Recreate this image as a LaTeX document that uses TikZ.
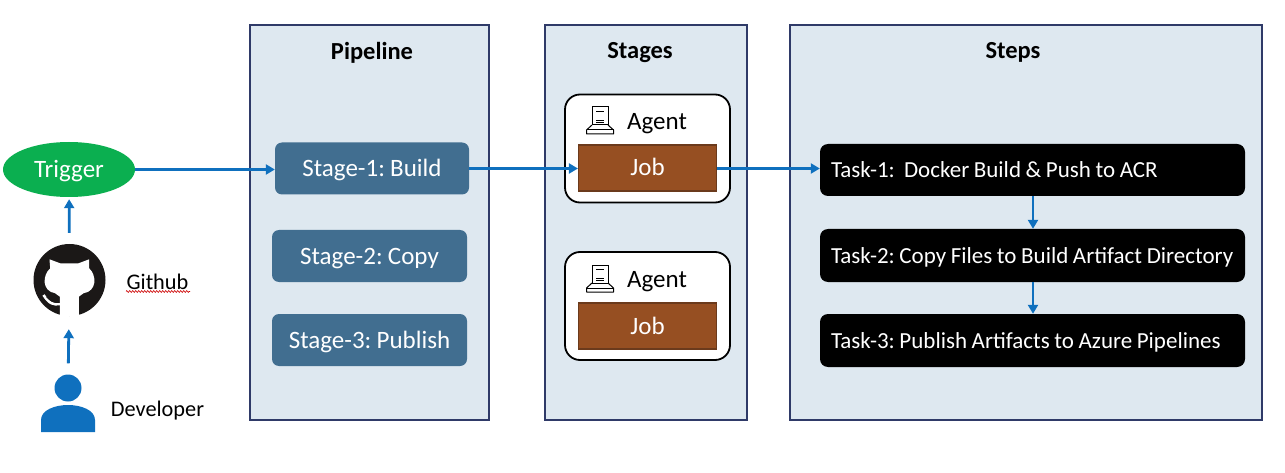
\documentclass[tikz,border=0pt]{standalone}
\usepackage{fontspec}
\setmainfont{Carlito}[WordSpace=0.6]
\usetikzlibrary{shapes.geometric,decorations.pathmorphing,arrows.meta}
\definecolor{panelfill}{HTML}{DEE8F0}
\definecolor{paneldraw}{HTML}{2F3A68}
\definecolor{stagefill}{HTML}{416E90}
\definecolor{jobfill}{HTML}{964F22}
\definecolor{jobdraw}{HTML}{6B3A1C}
\definecolor{trigfill}{HTML}{0BAF50}
\definecolor{flowblue}{HTML}{0F70BE}
\definecolor{octoblack}{HTML}{1B1817}
\newcommand{\taskfont}{\fontsize{23}{27}\selectfont\frenchspacing\spaceskip 4.6pt plus 0pt\relax}
\tikzset{
  base/.style={text height=16pt, text depth=0pt},
  panel/.style={draw=paneldraw, fill=panelfill, line width=1.5pt, minimum width=#1, minimum height=395, inner sep=0pt},
  paneltitle/.style={base, font=\fontsize{24.5}{28}\selectfont\bfseries},
  stagebox/.style={base, fill=stagefill, text=white, rounded corners=7pt, minimum width=#1, minimum height=52, inner sep=0pt},
  agentbox/.style={draw=black, fill=white, line width=1.8pt, rounded corners=15pt, minimum width=165, minimum height=108, inner sep=0pt},
  jobbox/.style={base, draw=jobdraw, fill=jobfill, text=white, line width=1.2pt, minimum width=138, minimum height=46, inner sep=0pt},
  taskbox/.style={base, fill=black, text=white, rounded corners=8pt, text width=403, inner xsep=11pt, inner ysep=0pt, minimum height=#1, align=flush left, font=\taskfont},
  lbl/.style={base, inner sep=0pt},
  smalllbl/.style={lbl, font=\fontsize{22.3}{26}\selectfont},
  flow/.style={-{Triangle[length=9pt,width=10pt]}, draw=flowblue, fill=flowblue, line width=2.8pt},
  pics/agenticon/.style={code={
    \draw[line width=1pt] (-8,-14) rectangle (8,4);
    \draw[line width=0.9pt] (-4,-10) -- (4,-10) (-4,-1) -- (4,-1) (-4,1) -- (4,1);
    \draw[line width=1pt, line join=round] (-8,4) -- (-13.5,9) -- (-13.5,13) -- (13.5,13) -- (13.5,9) -- (8,4);
    \draw[line width=1pt] (-13.5,9) -- (13.5,9);
  }},
  pics/octocat/.style={code={
    \fill[white] (-20,-20.7) -- (-19.3,-11.7) .. controls (-27,-5) and (-28,11) .. (-14.3,13.3) -- (-9.7,16.7) -- (-9.7,36) -- (9.3,36) -- (9.3,16.7) -- (14,13.3) .. controls (28,11) and (27,-5) .. (19.7,-11.7) -- (19.7,-20.7) -- (9,-16.7) -- (-9.3,-16.7) -- cycle;
    \draw[white, line width=2.6pt] (-26,15) .. controls (-20,24) and (-16,25) .. (-9.7,24);
    \draw[octoblack, line width=0.6pt] (-23,17) .. controls (-18,22) and (-15,23) .. (-10,22.5);
  }}
}
\begin{document}
\begin{tikzpicture}[x=1pt, y=-1pt, font=\fontsize{25}{29}\selectfont]
\useasboundingbox (0,0) rectangle (1285,473);

\node[panel=239] (pipeline) at (369.5,222.5) {};
\node[panel=202] (stages) at (646,222.5) {};
\node[panel=472] (steps) at (1026,222.5) {};
\node[paneltitle] (pipelinetitle) at (372,52) {Pipeline};
\node[paneltitle] (stagestitle) at (640,51) {Stages};
\node[paneltitle] (stepstitle) at (1013,51) {Steps};

\node[stagebox=194] (stage1) at (372,168.5) {Stage-1: Build};
\node[stagebox=195] (stage2) at (369.5,256) {Stage-2: Copy};
\node[stagebox=195] (stage3) at (369.5,340) {Stage-3: Publish};

\node[agentbox] (agent1) at (647.5,148.5) {};
\node[agentbox] (agent2) at (647.5,306) {};
\pic at (600,121) {agenticon};
\pic at (600,279) {agenticon};
\node[lbl] (agent1text) at (657,121.5) {Agent};
\node[lbl] (agent2text) at (657,279.5) {Agent};
\node[jobbox] (job1) at (647.5,168) {Job};
\node[jobbox] (job2) at (647.5,326) {Job};

\node[taskbox=52] (task1) at (1032.5,170) {Task-1:\ \ Docker Build \& Push to ACR};
\node[taskbox=53] (task2) at (1032.5,255.5) {Task-2: Copy Files to Build Artifact Directory};
\node[taskbox=53] (task3) at (1032.5,340.5) {Task-3: Publish Artifacts to Azure Pipelines};

\node[base, ellipse, fill=trigfill, text=white, minimum width=132, minimum height=55, inner sep=0pt] (trigger) at (69,169.5) {Trigger};
\node[circle, fill=octoblack, minimum size=72, inner sep=0pt] (github) at (69.5,280) {};
\pic at (69.5,280) {octocat};
\node[smalllbl] (githubtext) at (157.5,281) {Github};
\draw[red!80!black, line width=0.6pt, decorate, decoration={zigzag, segment length=3pt, amplitude=0.9pt}] (126,291.5) -- (190,291.5);

\node[circle, fill=flowblue, minimum size=27, inner sep=0pt] (developer) at (68,388) {};
\fill[flowblue] (41,432) -- (41,420) .. controls (41,410) and (55,405) .. (68,405) .. controls (81,405) and (95,410) .. (95,420) -- (95,432) -- cycle;
\node[smalllbl] (developertext) at (157.5,408) {Developer};

\draw[flow, shorten <=11pt, shorten >=2pt] (github) -- (trigger);
\draw[flow, shorten <=11pt, shorten >=13pt] (developer) -- (github);
\draw[flow] (trigger) -- (trigger -| stage1.west);
\draw[flow] (stage1) -- (stage1 -| job1.west);
\draw[flow] (stage1 -| job1.east) -- (stage1 -| task1.west);
\draw[flow] (task1.south -| 1033,0) -- (task2.north -| 1033,0);
\draw[flow] (task2.south -| 1033,0) -- (task3.north -| 1033,0);
\end{tikzpicture}
\end{document}
